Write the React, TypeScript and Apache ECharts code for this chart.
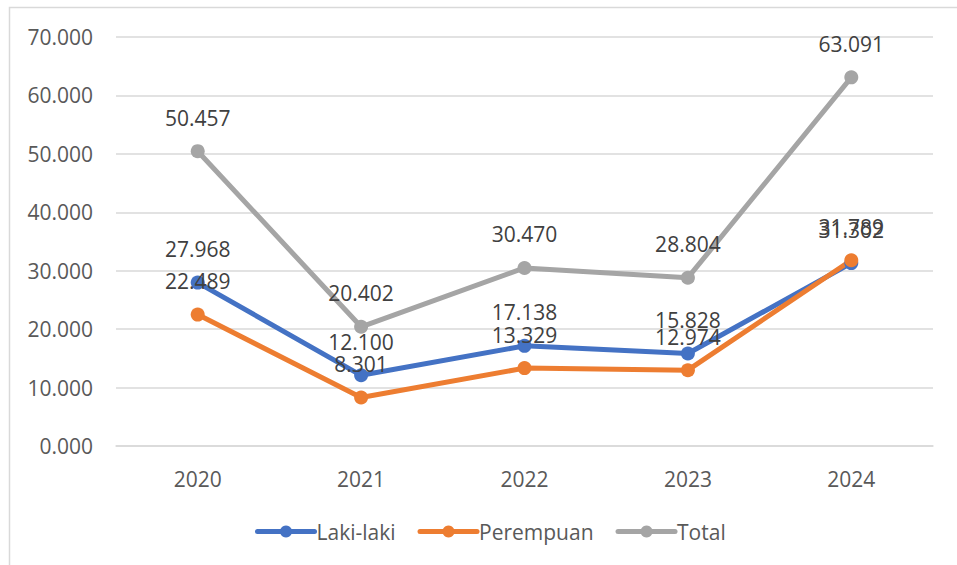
import React, { useEffect, useRef } from "react";
import * as echarts from "echarts";

const categories = ["2020", "2021", "2022", "2023", "2024"];
const lakiLaki = [27.968, 12.1, 17.138, 15.828, 31.302];
const perempuan = [22.489, 8.301, 13.329, 12.974, 31.789];
const total = [50.457, 20.402, 30.47, 28.804, 63.091];
const seriesNames = ["Laki-laki", "Perempuan", "Total"];
const colors = ["#4472C4", "#ED7D31", "#A5A5A5"];

const FONT = "'Open Sans', 'Noto Sans', sans-serif";
const FS = 21;

export default function App() {
  const ref = useRef<HTMLDivElement>(null);
  useEffect(() => {
    if (!ref.current) return;
    const chart = echarts.init(ref.current, undefined, { renderer: "svg" });
    const mk = (name: string, data: number[], color: string) => ({
      name,
      type: "line",
      data,
      symbol: "circle",
      symbolSize: 14,
      lineStyle: { width: 5, color, cap: "round" },
      itemStyle: { color },
      label: {
        show: true,
        position: "top",
        distance: 16,
        color: "#404040",
        fontFamily: FONT,
        fontSize: FS,
        formatter: (p: any) => Number(p.value).toFixed(3),
      },
    });
    chart.setOption({
      animation: false,
      color: colors,
      textStyle: { fontFamily: FONT },
      grid: { left: 116, right: 24, top: 37, bottom: 119, containLabel: false },
      graphic: [
        {
          type: "rect",
          shape: { x: 9.5, y: 7.5, width: 1200, height: 1200 },
          style: { fill: "none", stroke: "#d9d9d9", lineWidth: 1.5 },
          silent: true,
          z: -10,
        },
      ],
      legend: {
        data: seriesNames,
        left: 250,
        top: 516,
        itemWidth: 57,
        itemHeight: 15,
        itemGap: 22,
        lineStyle: { width: 5, cap: "round" },
        textStyle: { color: "#595959", fontFamily: FONT, fontSize: FS, padding: [0, 0, 0, -3] },
      },
      xAxis: {
        type: "category",
        data: categories,
        boundaryGap: true,
        axisLine: { show: true, lineStyle: { color: "#d9d9d9", width: 1.5 } },
        axisTick: { show: false },
        axisLabel: { color: "#595959", fontFamily: FONT, fontSize: FS, margin: 22 },
      },
      yAxis: {
        type: "value",
        min: 0,
        max: 70,
        interval: 10,
        axisLine: { show: false },
        axisTick: { show: false },
        splitLine: { lineStyle: { color: "#d9d9d9", width: 1.5 } },
        axisLabel: {
          color: "#595959",
          fontFamily: FONT,
          fontSize: FS,
          margin: 23,
          formatter: (v: number) => v.toFixed(3),
        },
      },
      series: [
        mk(seriesNames[0], lakiLaki, colors[0]),
        mk(seriesNames[1], perempuan, colors[1]),
        mk(seriesNames[2], total, colors[2]),
      ],
    });
    return () => chart.dispose();
  }, []);
  return (
    <div
      ref={ref}
      style={{ position: "absolute", left: 0, top: 0, width: 957, height: 565, background: "#fff" }}
    />
  );
}
